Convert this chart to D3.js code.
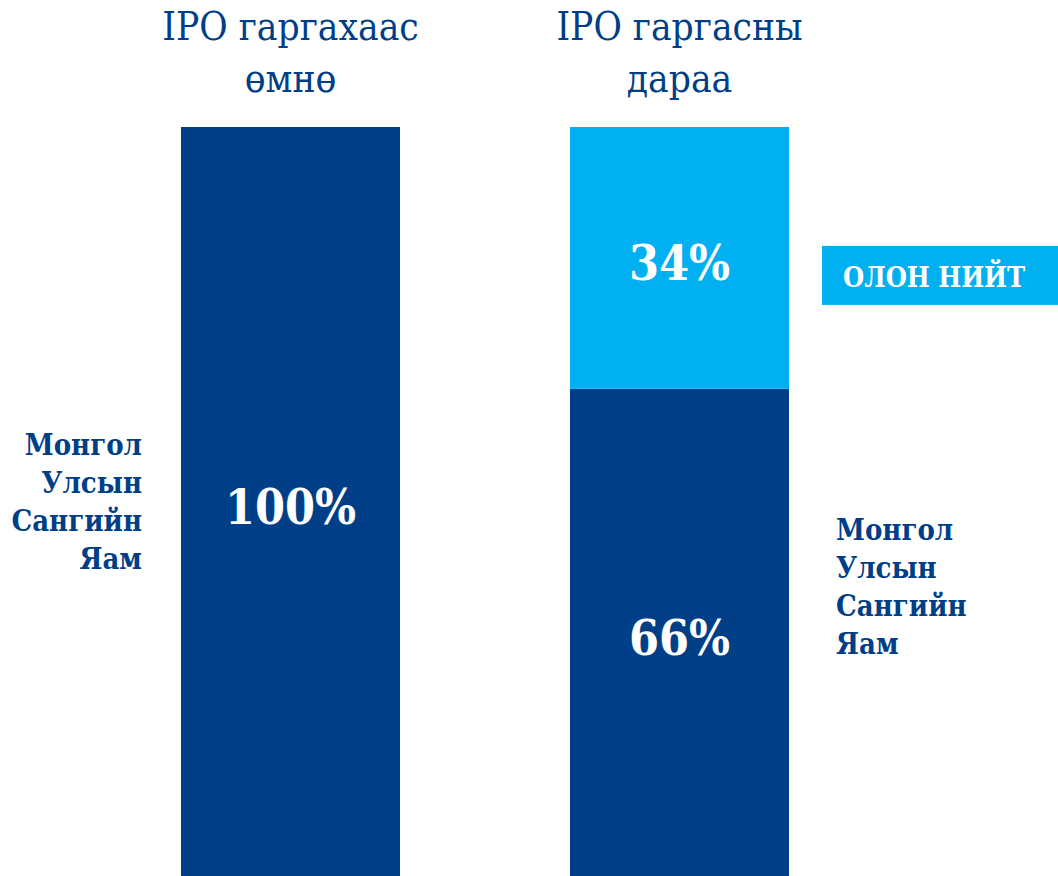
<!DOCTYPE html>
<html>
<head>
<meta charset="utf-8">
<script src="https://cdn.jsdelivr.net/npm/d3@7"></script>
<style>
  body { margin: 0; background: #fff; }
  svg text { font-family: "DejaVu Serif Condensed", "DejaVu Serif", serif; }
</style>
</head>
<body>
<svg width="1058" height="876"></svg>
<script>
// өгөгдөл
let categories = ["IPO гаргахаас өмнө", "IPO гаргасны дараа"];
let titleLines = [["IPO гаргахаас", "өмнө"], ["IPO гаргасны", "дараа"]];
let seriesNames = ["Монгол Улсын Сангийн Яам", "ОЛОН НИЙТ"];
let govShare = [100, 66];
let publicShare = [0, 34];

let svg = d3.select("svg"),
    width = +svg.attr("width"),
    height = +svg.attr("height");

let darkBlue = "#003f87", lightBlue = "#00b0f0";

let x = d3.scaleBand()
    .domain(categories)
    .range([181, 789])
    .paddingInner(0.437)
    .paddingOuter(0);

// доод хэсэг нь зургаас гадуур гарна
let y = d3.scaleLinear()
    .domain([0, 100])
    .range([897, 127]);

let rows = categories.map(function (c, i) {
    return { cat: c, gov: govShare[i], pub: publicShare[i] };
});

let stack = d3.stack().keys(["gov", "pub"])(rows);
let z = d3.scaleOrdinal().domain(["gov", "pub"]).range([darkBlue, lightBlue]);

let g = svg.append("g");

let layer = g.selectAll("g.layer")
    .data(stack)
    .enter().append("g")
    .attr("class", "layer")
    .attr("fill", function (d) { return z(d.key); });

layer.selectAll("rect")
    .data(function (d) { return d.filter(function (e) { return e[1] > e[0]; }); })
    .enter().append("rect")
    .attr("x", function (d) { return x(d.data.cat); })
    .attr("width", x.bandwidth())
    .attr("y", function (d) { return y(d[1]); })
    .attr("height", function (d) { return y(d[0]) - y(d[1]); });

// хувийн тэмдэглэгээ
layer.each(function (s) {
    let extra = s.key === "pub" ? 10 : 0;
    d3.select(this).selectAll("text")
        .data(s.filter(function (e) { return e[1] > e[0]; }))
        .enter().append("text")
        .attr("x", function (d) { return x(d.data.cat) + x.bandwidth() / 2; })
        .attr("y", function (d) { return (y(d[0]) + y(d[1])) / 2 - 5 + extra; })
        .attr("dy", "0.35em")
        .attr("text-anchor", "middle")
        .attr("fill", "#fff")
        .attr("font-weight", "bold")
        .attr("font-size", 48)
        .text(function (d) { return (d[1] - d[0]) + "%"; });
});

// гарчиг
let title = svg.append("g").selectAll("text")
    .data(categories)
    .enter().append("text")
    .attr("x", function (d) { return x(d) + x.bandwidth() / 2; })
    .attr("text-anchor", "middle")
    .attr("fill", darkBlue)
    .attr("font-size", 38.5);

title.selectAll("tspan")
    .data(function (d, i) { return titleLines[i]; })
    .enter().append("tspan")
    .attr("x", function () { return d3.select(this.parentNode).attr("x"); })
    .attr("y", function (d, i) { return 40 + i * 52; })
    .text(function (d) { return d; });

// зүүн талын шошго
let govWords = seriesNames[0].split(" ");
let lineGap = 38;

svg.append("text")
    .attr("text-anchor", "end")
    .attr("fill", darkBlue)
    .attr("font-weight", "bold")
    .attr("font-size", 29)
    .selectAll("tspan")
    .data(govWords)
    .enter().append("tspan")
    .attr("x", 142)
    .attr("y", function (d, i) { return y(50) - 57 + i * lineGap; })
    .text(function (d) { return d; });

// баруун талын шошго
svg.append("text")
    .attr("text-anchor", "start")
    .attr("fill", darkBlue)
    .attr("font-weight", "bold")
    .attr("font-size", 29)
    .selectAll("tspan")
    .data(govWords)
    .enter().append("tspan")
    .attr("x", 836)
    .attr("y", function (d, i) { return y(govShare[1] / 2) - 103 + i * lineGap; })
    .text(function (d) { return d; });

// олон нийтийн тайлбар
let legendY = y(100 - publicShare[1] / 2);
svg.append("rect")
    .attr("x", 822)
    .attr("y", legendY - 12)
    .attr("width", width - 822)
    .attr("height", 59)
    .attr("fill", lightBlue);

svg.append("text")
    .attr("x", 843)
    .attr("y", legendY + 29)
    .attr("fill", "#fff")
    .attr("font-weight", "bold")
    .attr("font-size", 27)
    .text(seriesNames[1]);
</script>
</body>
</html>
